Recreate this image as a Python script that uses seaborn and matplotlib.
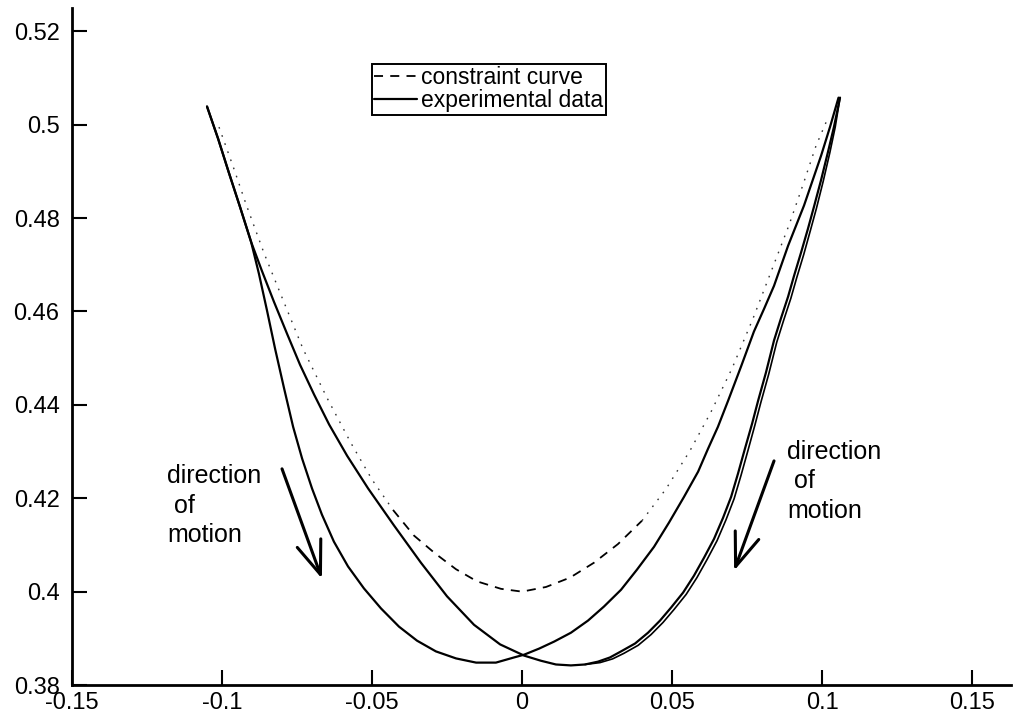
import numpy as np
import pandas as pd
import matplotlib
matplotlib.use("Agg")
import matplotlib.pyplot as plt
from matplotlib.ticker import FixedLocator, FixedFormatter
import seaborn as sns

# Constraint curve (ideal trajectory)
constraint_x = [-0.101, -0.096, -0.092, -0.086, -0.080, -0.073, -0.065, -0.057,
                -0.050, -0.043, -0.036, -0.029, -0.022, -0.015, -0.007, 0.000,
                0.008, 0.016, 0.024, 0.032, 0.040, 0.048, 0.056, 0.063,
                0.070, 0.077, 0.083, 0.089, 0.094, 0.098, 0.102]
constraint_y = [0.4995, 0.4905, 0.4830, 0.4725, 0.4630, 0.4520, 0.4415, 0.4318,
                0.4240, 0.4175, 0.4120, 0.4082, 0.4048, 0.4022, 0.4006, 0.4000,
                0.4010, 0.4030, 0.4062, 0.4102, 0.4152, 0.4220, 0.4302, 0.4385,
                0.4478, 0.4585, 0.4685, 0.4785, 0.4878, 0.4955, 0.5015]

# Measured pass 1 (minimum left of centre)
pass1_x = [-0.1050, -0.1013, -0.0977, -0.0940, -0.0903, -0.0877, -0.0850, -0.0823,
           -0.0793, -0.0763, -0.0733, -0.0700, -0.0667, -0.0627, -0.0580, -0.0527,
           -0.0470, -0.0410, -0.0350, -0.0287, -0.0220, -0.0153, -0.0087, -0.0027,
           0.0007, 0.0057, 0.0107, 0.0163, 0.0220, 0.0273, 0.0330, 0.0383,
           0.0440, 0.0490, 0.0540, 0.0587, 0.0620, 0.0653, 0.0687, 0.0730,
           0.0773, 0.0807, 0.0840, 0.0887, 0.0940, 0.0997, 0.1027, 0.1055]
pass1_y = [0.5039, 0.4970, 0.4897, 0.4824, 0.4749, 0.4681, 0.4602, 0.4520,
           0.4435, 0.4353, 0.4285, 0.4221, 0.4165, 0.4107, 0.4054, 0.4007,
           0.3964, 0.3925, 0.3895, 0.3872, 0.3857, 0.3848, 0.3848, 0.3859,
           0.3865, 0.3878, 0.3893, 0.3912, 0.3938, 0.3968, 0.4004, 0.4047,
           0.4096, 0.4148, 0.4203, 0.4257, 0.4306, 0.4353, 0.4409, 0.4482,
           0.4557, 0.4606, 0.4655, 0.4741, 0.4827, 0.4934, 0.4996, 0.5058]

# Measured pass 2 (minimum right of centre)
pass2_x = [-0.1050, -0.1013, -0.0977, -0.0940, -0.0903, -0.0867, -0.0827, -0.0783,
           -0.0740, -0.0693, -0.0643, -0.0583, -0.0513, -0.0427, -0.0337, -0.0250,
           -0.0160, -0.0073, 0.0007, 0.0063, 0.0113, 0.0163, 0.0210, 0.0253,
           0.0293, 0.0330, 0.0377, 0.0420, 0.0460, 0.0497, 0.0537, 0.0573,
           0.0607, 0.0640, 0.0670, 0.0697, 0.0720, 0.0743, 0.0767, 0.0787,
           0.0813, 0.0840, 0.0863, 0.0887, 0.0907, 0.0930, 0.0953, 0.0973,
           0.0997, 0.1020, 0.1040, 0.1060]
pass2_y = [0.5039, 0.4970, 0.4897, 0.4824, 0.4749, 0.4687, 0.4621, 0.4552,
           0.4486, 0.4422, 0.4358, 0.4291, 0.4221, 0.4142, 0.4062, 0.3990,
           0.3929, 0.3887, 0.3863, 0.3852, 0.3844, 0.3842, 0.3844, 0.3850,
           0.3859, 0.3872, 0.3889, 0.3912, 0.3938, 0.3966, 0.3998, 0.4034,
           0.4073, 0.4113, 0.4158, 0.4203, 0.4253, 0.4306, 0.4360, 0.4409,
           0.4469, 0.4538, 0.4585, 0.4632, 0.4677, 0.4726, 0.4777, 0.4824,
           0.4882, 0.4942, 0.4996, 0.5058]

# Measured pass 3 (rising branch only, running just outside pass 2)
pass3_x = [0.0210, 0.0260, 0.0302, 0.0340, 0.0387, 0.0430, 0.0470, 0.0507,
           0.0547, 0.0583, 0.0617, 0.0650, 0.0680, 0.0707, 0.0730, 0.0753,
           0.0776, 0.0796, 0.0822, 0.0849, 0.0872, 0.0896, 0.0916, 0.0939,
           0.0961, 0.0981, 0.1004, 0.1026, 0.1044, 0.1060]
pass3_y = [0.3844, 0.3848, 0.3856, 0.3868, 0.3885, 0.3908, 0.3934, 0.3962,
           0.3994, 0.4030, 0.4069, 0.4109, 0.4154, 0.4199, 0.4249, 0.4302,
           0.4356, 0.4405, 0.4465, 0.4534, 0.4581, 0.4628, 0.4673, 0.4722,
           0.4773, 0.4820, 0.4879, 0.4940, 0.4995, 0.5058]

x_ticks = [-0.15, -0.1, -0.05, 0, 0.05, 0.1, 0.15]
x_tick_labels = ["-0.15", "-0.1", "-0.05", "0", "0.05", "0.1", "0.15"]
y_ticks = [0.38, 0.40, 0.42, 0.44, 0.46, 0.48, 0.50, 0.52]
y_tick_labels = ["0.38", "0.4", "0.42", "0.44", "0.46", "0.48", "0.5", "0.52"]

sns.set_style("ticks")
plt.rcParams["font.family"] = ["Liberation Sans", "DejaVu Sans"]
plt.rcParams["text.color"] = "black"
plt.rcParams["xtick.color"] = "black"
plt.rcParams["ytick.color"] = "black"
plt.rcParams["axes.labelcolor"] = "black"

fig = plt.figure(figsize=(10.2, 7.21), dpi=100)
ax = fig.add_axes([0.0706, 0.0499, 0.9206, 0.939])

cons = pd.DataFrame({"x": constraint_x, "y": constraint_y})
inner = cons[cons["x"].abs() <= 0.045]
left_outer = cons[cons["x"] <= -0.043]
right_outer = cons[cons["x"] >= 0.040]

sns.lineplot(data=inner, x="x", y="y", sort=False, estimator=None, ax=ax,
             color="black", lw=1.3, linestyle=(0, (5, 4)), label="constraint curve")
for part in (left_outer, right_outer):
    sns.lineplot(data=part, x="x", y="y", sort=False, estimator=None, ax=ax,
                 color="#333333", lw=1.0, linestyle=(0, (1.2, 5)))

sns.lineplot(x=pass1_x, y=pass1_y, sort=False, estimator=None, ax=ax,
             color="black", lw=1.6, label="experimental data")
sns.lineplot(x=pass2_x, y=pass2_y, sort=False, estimator=None, ax=ax,
             color="black", lw=1.6)
sns.lineplot(x=pass3_x, y=pass3_y, sort=False, estimator=None, ax=ax,
             color="black", lw=1.2)

ax.set_xlim(-0.15, 0.163)
ax.set_ylim(0.38, 0.525)
ax.set_xlabel("")
ax.set_ylabel("")

ax.xaxis.set_major_locator(FixedLocator(x_ticks))
ax.xaxis.set_major_formatter(FixedFormatter(x_tick_labels))
ax.yaxis.set_major_locator(FixedLocator(y_ticks))
ax.yaxis.set_major_formatter(FixedFormatter(y_tick_labels))

for side in ("top", "right"):
    ax.spines[side].set_visible(False)
for side in ("left", "bottom"):
    ax.spines[side].set_linewidth(2.0)
    ax.spines[side].set_color("black")
ax.tick_params(axis="both", direction="in", length=11, width=1.5,
               labelsize=17, colors="black")
ax.tick_params(axis="y", pad=9)
ax.tick_params(axis="x", pad=5)

leg = ax.legend(loc="upper left", bbox_to_anchor=(0.3195, 0.917),
                borderaxespad=0, frameon=True, fancybox=False,
                fontsize=16.5, handlelength=1.85, handletextpad=0.2,
                labelspacing=0.0, borderpad=0.1)
leg.get_frame().set_edgecolor("black")
leg.get_frame().set_linewidth(1.4)
leg.get_frame().set_alpha(1)

# Direction annotations
ax.text(-0.1183, 0.4184, "direction\n of\nmotion", fontsize=18,
        ha="left", va="center", linespacing=1.3, color="black")
ax.text(0.0883, 0.4236, "direction\n of\nmotion", fontsize=18,
        ha="left", va="center", linespacing=1.3, color="black")

arrow_style = dict(arrowstyle="->,head_length=1.2,head_width=0.45",
                   lw=2.2, color="black", mutation_scale=20,
                   shrinkA=0, shrinkB=0)
ax.annotate("", xy=(-0.0667, 0.4028), xytext=(-0.080, 0.4263),
            arrowprops=arrow_style)
ax.annotate("", xy=(0.0707, 0.4045), xytext=(0.084, 0.428),
            arrowprops=arrow_style)

fig.savefig("out.png", dpi=100)
